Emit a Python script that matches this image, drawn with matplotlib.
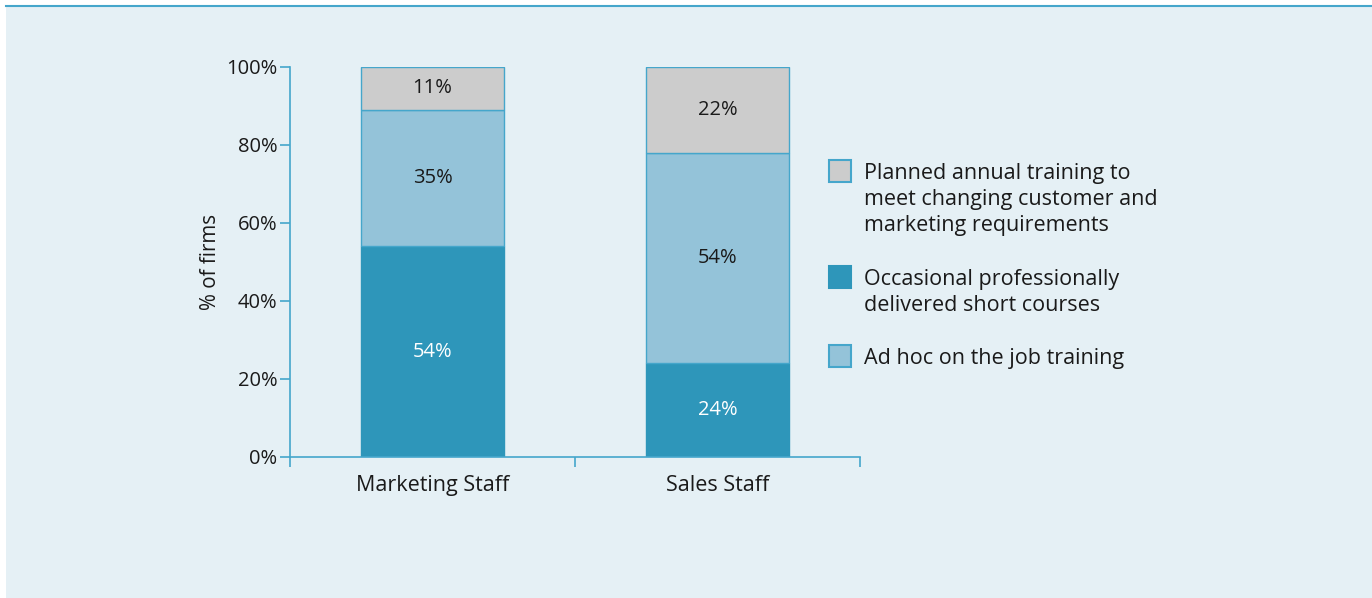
import matplotlib
matplotlib.use("Agg")
import matplotlib.pyplot as plt
from matplotlib.patches import Rectangle
from matplotlib.lines import Line2D

categories = ["Marketing Staff", "Sales Staff"]
occasional = [54, 24]
adhoc = [35, 54]
planned = [11, 22]
yticks = [0, 20, 40, 60, 80, 100]
legend_labels = [
    "Planned annual training to\nmeet changing customer and\nmarketing requirements",
    "Occasional professionally\ndelivered short courses",
    "Ad hoc on the job training",
]

plt.rcParams['font.family'] = ['Open Sans', 'DejaVu Sans']

W, H = 1372, 598
fig = plt.figure(figsize=(W / 100, H / 100), dpi=100)
fig.patch.set_facecolor("white")

BG = "#E5F0F5"
AX = "#45A6CB"
DARK = "#2E96BA"
LIGHT = "#94C3D9"
GRAY = "#CCCCCC"
TXT = "#1a1a1a"

# background panel
fig.patches.append(Rectangle((6 / W, 0), 1 - 6 / W, 1 - 6 / H, transform=fig.transFigure,
                             facecolor=BG, edgecolor="none", zorder=-10))
fig.lines.append(Line2D([6 / W, 1], [1 - 6 / H, 1 - 6 / H], transform=fig.transFigure,
                        color=AX, lw=1.5, zorder=-9))

x0, x1 = 290, 860
y_top, y_bot = 67, 457
ax = fig.add_axes([x0 / W, 1 - y_bot / H, (x1 - x0) / W, (y_bot - y_top) / H])
ax.set_facecolor("none")
ax.set_zorder(5)
ax.set_xlim(0, 2)
ax.set_ylim(0, 100)

pos = [0.5, 1.5]
bw = 0.5
ax.bar(pos, occasional, width=bw, color=DARK, edgecolor=DARK, linewidth=1)
ax.bar(pos, adhoc, width=bw, bottom=occasional, color=LIGHT, edgecolor=AX, linewidth=1)
bott3 = [a + b for a, b in zip(occasional, adhoc)]
ax.bar(pos, planned, width=bw, bottom=bott3, color=GRAY, edgecolor=AX, linewidth=1)

for i, p in enumerate(pos):
    ax.text(p, occasional[i] / 2, f"{occasional[i]}%", ha="center", va="center",
            color="white", fontsize=14.5)
    ax.text(p, occasional[i] + adhoc[i] / 2, f"{adhoc[i]}%", ha="center", va="center",
            color=TXT, fontsize=14.5)
    ax.text(p, bott3[i] + planned[i] / 2, f"{planned[i]}%", ha="center", va="center",
            color=TXT, fontsize=14.5)

for s in ["top", "right"]:
    ax.spines[s].set_visible(False)
for s in ["left", "bottom"]:
    ax.spines[s].set_color(AX)
    ax.spines[s].set_linewidth(1.2)

ax.set_yticks(yticks)
ax.set_yticklabels([f"{v}%" for v in yticks], fontsize=14.5, color=TXT)
ax.tick_params(axis="y", length=7, width=1.2, color=AX, pad=2)
ax.set_xticks([0, 1, 2])
ax.set_xticklabels([])
ax.set_xticks(pos, minor=True)
ax.set_xticklabels(categories, minor=True, fontsize=15.5, color=TXT)
ax.tick_params(axis="x", which="major", length=7, width=1.2, color=AX, direction="out")
ax.tick_params(axis="x", which="minor", length=0, pad=13)
ax.set_ylabel("% of firms", fontsize=14.8, color=TXT, labelpad=4)

# legend
entries = [(GRAY, 160, legend_labels[0]), (DARK, 266, legend_labels[1]), (LIGHT, 345, legend_labels[2])]
for col, yy, lab in entries:
    fig.patches.append(Rectangle((829 / W, 1 - (yy + 22) / H), 22 / W, 22 / H,
                                 transform=fig.transFigure, facecolor=col,
                                 edgecolor=AX if col != DARK else DARK, linewidth=1.5, zorder=3))
    fig.text(864 / W, 1 - (yy + 3) / H, lab, ha="left", va="top", fontsize=15.5,
             color=TXT, linespacing=1.3)

fig.savefig("out.png", dpi=100, facecolor=fig.get_facecolor())
